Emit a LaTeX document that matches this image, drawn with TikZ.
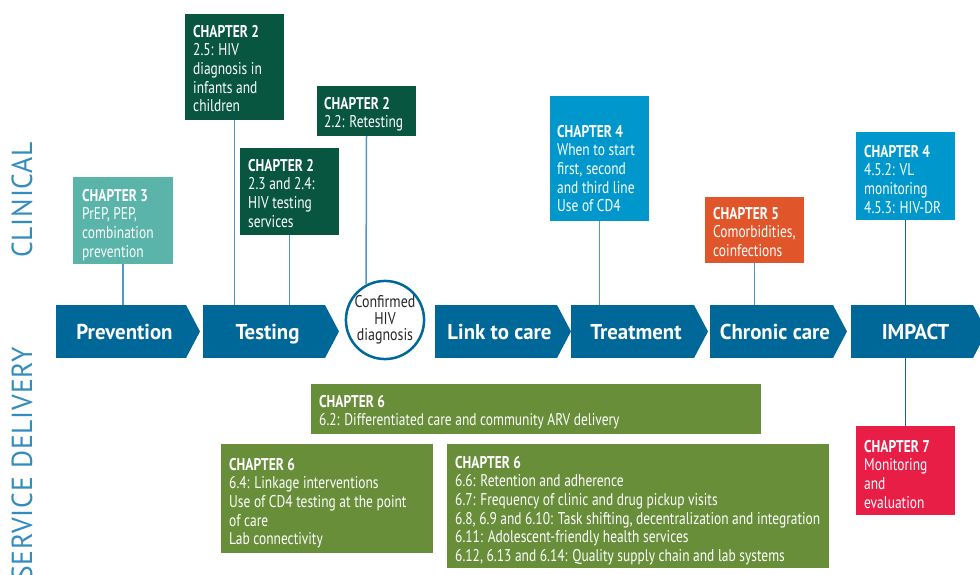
\documentclass[tikz,border=0pt]{standalone}
\usepackage{fontspec}
\setmainfont[FakeStretch=0.79]{PT Sans}
\newfontfamily\chevfont[FakeStretch=0.97]{PT Sans}
\newfontfamily\circfont[FakeStretch=0.82]{PT Sans}
\newfontfamily\secfont[FakeStretch=0.95,LetterSpace=3]{PT Sans}
\definecolor{chevblue}{RGB}{0,104,152}
\definecolor{dkgreen}{RGB}{8,85,64}
\definecolor{tealbox}{RGB}{90,180,170}
\definecolor{ltblue}{RGB}{0,152,204}
\definecolor{orangebox}{RGB}{224,86,42}
\definecolor{crimson}{RGB}{233,30,71}
\definecolor{olive}{RGB}{104,142,58}
\definecolor{seclabel}{RGB}{50,140,190}
\definecolor{linkblue}{RGB}{80,150,200}
\definecolor{linkdark}{RGB}{20,100,150}
\newcommand\mkchev[4]{%
  \node[chevbody, minimum width=#3pt, anchor=west] (#1) at (#2,331.5) {\hspace*{7pt}#4};
  \fill[chevblue] (#1.north east) -- ([xshift=14pt]#1.east) -- (#1.south east) -- cycle;}
\begin{document}
\begin{tikzpicture}[x=1pt,y=-1pt,
  chbox/.style={fill=#1, anchor=north west, inner sep=0pt, outer sep=0pt},
  chtext/.style={anchor=north west, inner sep=0pt, text=white, align=left, font=\fontsize{17}{18.6}\selectfont},
  chevbody/.style={fill=chevblue, inner sep=0pt, outer sep=0pt, minimum height=53pt, text=white, text height=15pt, text depth=0pt, font=\chevfont\bfseries\fontsize{21.5}{24}\selectfont},
  conn/.style={draw=linkblue, line width=1.5pt},
  conndark/.style={draw=linkdark, line width=1.5pt},
  seclab/.style={rotate=90, inner sep=0pt, text=seclabel, font=\secfont\fontsize{29}{30}\selectfont}]
\useasboundingbox (0,0) rectangle (980,575);

% section labels
\node[seclab] (clin) at (22,200) {CLINICAL};
\node[seclab, anchor=east] (serv) at (22,347) {SERVICE DELIVERY};

% chevrons
\mkchev{prev}{56}{130}{Prevention}
\mkchev{test}{203}{122}{Testing}
\mkchev{link}{435}{122}{Link to care}
\mkchev{treat}{571}{123}{Treatment}
\mkchev{chron}{710}{123}{Chronic care}
\mkchev{impact}{851}{122}{IMPACT}

\node[circle, draw=chevblue, line width=2.5pt, fill=white, minimum size=78pt, inner sep=0pt, align=center, text=black!85, font=\circfont\fontsize{17}{16.7}\selectfont] (conf) at (385,320) {Confirmed\\HIV\\diagnosis};

% clinical boxes
\node[chbox=tealbox, minimum width=100pt, minimum height=87pt] (c3) at (73,177) {};
\node[chtext] (c3t) at (82,189) {\textbf{CHAPTER 3}\\PrEP, PEP,\\combination\\prevention};

\node[chbox=dkgreen, minimum width=99pt, minimum height=106pt] (c25) at (185,14) {};
\node[chtext] (c25t) at (193,25) {\textbf{CHAPTER 2}\\2.5: HIV\\diagnosis in\\infants and\\children};

\node[chbox=dkgreen, minimum width=99pt, minimum height=87pt] (c234) at (240,148) {};
\node[chtext] (c234t) at (248,159) {\textbf{CHAPTER 2}\\2.3 and 2.4:\\HIV testing\\services};

\node[chbox=dkgreen, minimum width=99pt, minimum height=50pt] (c22) at (317,86) {};
\node[chtext] (c22t) at (324,97) {\textbf{CHAPTER 2}\\2.2: Retesting};

\node[chbox=ltblue, minimum width=99pt, minimum height=125pt] (c4a) at (550,96) {};
\node[chtext] (c4at) at (557,125) {\textbf{CHAPTER 4}\\When to start\\first, second\\and third line\\Use of CD4};

\node[chbox=orangebox, minimum width=99pt, minimum height=66pt] (c5) at (705,197) {};
\node[chtext] (c5t) at (713,207) {\textbf{CHAPTER 5}\\Comorbidities,\\coinfections};

\node[chbox=ltblue, minimum width=99pt, minimum height=88pt] (c4b) at (856,132) {};
\node[chtext] (c4bt) at (864,145) {\textbf{CHAPTER 4}\\4.5.2: VL\\monitoring\\4.5.3: HIV-DR};

\node[chbox=crimson, minimum width=99pt, minimum height=89pt] (c7) at (856,426) {};
\node[chtext] (c7t) at (864,440) {\textbf{CHAPTER 7}\\Monitoring\\and\\evaluation};

% service delivery boxes
\node[chbox=olive, minimum width=450pt, minimum height=50pt] (c6a) at (311,384) {};
\node[chtext] (c6at) at (319,395) {\textbf{CHAPTER 6}\\6.2: Differentiated care and community ARV delivery};

\node[chbox=olive, minimum width=212pt, minimum height=109pt] (c6b) at (221,444) {};
\node[chtext] (c6bt) at (229,458) {\textbf{CHAPTER 6}\\6.4: Linkage interventions\\Use of CD4 testing at the point\\of care\\Lab connectivity};

\node[chbox=olive, minimum width=382pt, minimum height=124pt] (c6c) at (447,444) {};
\node[chtext] (c6ct) at (455,456) {\textbf{CHAPTER 6}\\6.6: Retention and adherence\\6.7: Frequency of clinic and drug pickup visits\\6.8, 6.9 and 6.10: Task shifting, decentralization and integration\\6.11: Adolescent-friendly health services\\6.12, 6.13 and 6.14: Quality supply chain and lab systems};

% connectors
\draw[conn] (c3.south) -- (c3.south |- prev.north);
\draw[conn] (c25.south) -- (c25.south |- test.north);
\draw[conn] (c234.south) -- (c234.south |- test.north);
\draw[conn] (c22.south) -- (conf.118);
\draw[conn] (c4a.south) -- (c4a.south |- treat.north);
\draw[conn] (c5.south) -- (c5.south |- chron.north);
\draw[conndark] (c4b.south) -- (c4b.south |- impact.north);
\draw[conndark] (c7.north |- impact.south) -- (c7.north);
\end{tikzpicture}
\end{document}
